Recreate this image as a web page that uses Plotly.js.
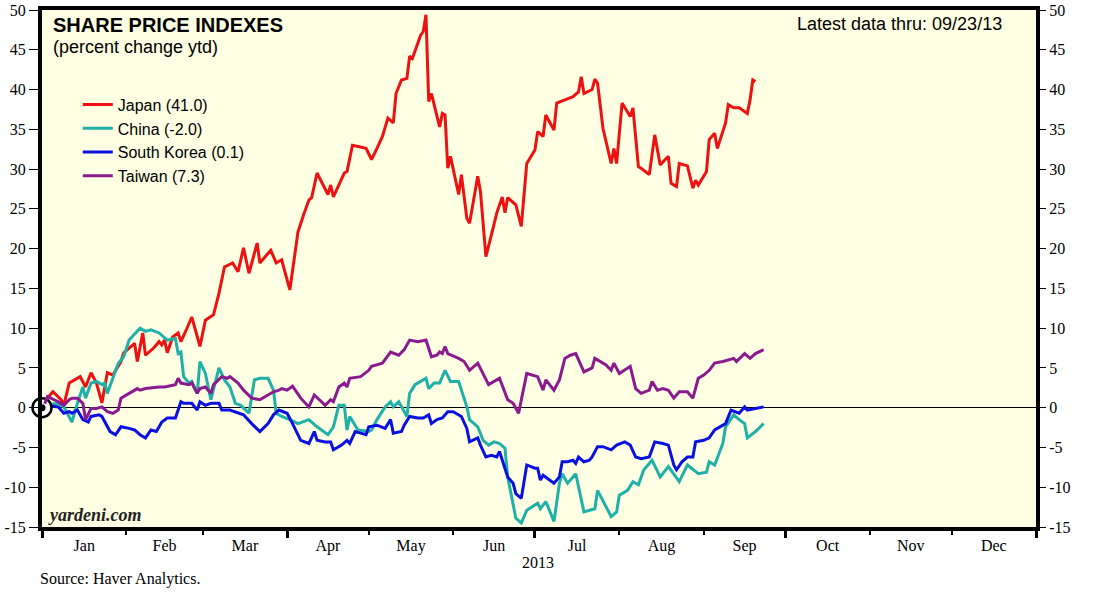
<!DOCTYPE html>
<html>
<head>
<meta charset="utf-8">
<script src="https://cdn.plot.ly/plotly-3.0.1.min.js"></script>
<style>html,body{margin:0;padding:0;background:#fff;}#chart{width:1097px;height:604px;}</style>
</head>
<body>
<div id="chart"></div>
<script>
// ---- data (day of year 2013, 0 = Jan 1) ----
const japanDays = [1,4,7,8,10,14,16,18,20,22,24,26,29,30,34,35,37,38,41,43,44,45,46,48,50,51,53,55,58,60,63,65,67,70,72,74,76,79,80,84,86,88,91,94,96,98,99,101,105,106,107,111,112,114,119,121,123,125,127,129,130,132,134,135,136,139,140,141,142,143,146,147,148,149,150,153,154,156,157,160,161,163,165,167,169,170,171,174,176,178,181,182,184,185,188,189,192,195,197,198,199,202,203,204,206,209,210,211,213,216,217,219,220,223,225,227,230,231,233,234,237,239,240,241,244,245,247,248,251,252,254,256,259,260,261,262];
const japanValues = [0.8,2.0,1.0,0.3,3.1,3.9,2.6,4.4,3.1,0.6,4.4,4.1,5.8,6.9,8.1,5.8,9.4,6.6,7.5,8.3,7.9,8.5,6.9,8.9,9.4,8.3,9.8,11.4,7.7,11.0,11.7,14.4,17.7,18.2,17.1,20.1,16.9,20.7,18.2,19.8,18.2,18.6,14.8,22.1,24.2,26.1,26.4,29.5,26.8,28.0,26.5,29.5,29.7,33.0,32.6,31.2,32.6,34.1,36.4,35.8,39.5,41.2,41.4,44.2,43.9,46.8,47.3,49.4,38.5,39.5,35.3,37.0,36.8,30.1,31.6,26.8,29.3,23.8,23.2,29.1,27.2,19.0,21.7,24.5,26.5,24.5,26.4,25.5,22.8,30.7,32.4,34.7,34.1,36.8,34.9,38.3,38.7,39.1,39.7,41.6,39.5,40.0,41.3,40.8,35.1,30.7,32.6,30.7,38.3,36.6,37.7,30.3,30.1,29.3,34.3,30.5,31.6,28.2,27.8,30.7,30.4,27.6,28.6,28.0,29.7,33.7,34.5,32.6,35.8,38.1,37.7,37.7,37.0,38.7,41.2,41.0];

const chinaDays = [1,6,8,11,13,15,16,18,20,22,23,24,26,28,30,32,33,36,38,40,43,46,49,50,51,52,54,55,57,58,60,62,65,67,69,71,73,75,76,78,80,83,85,86,88,91,94,98,101,105,107,109,111,112,113,116,120,121,123,126,128,129,131,134,135,137,141,142,144,146,148,150,153,156,157,160,162,164,166,168,170,171,174,176,178,182,183,185,188,190,191,193,196,199,203,204,209,211,212,215,217,219,221,224,227,230,232,234,237,239,241,244,245,247,250,251,254,256,258,259,262,265];
const chinaValues = [0.3,0.55,0.1,-1.8,0.55,2.6,1.2,3.1,3.3,2.9,3.1,1.8,3.7,5.6,6.4,8.5,8.9,10.0,9.6,9.8,9.4,8.5,8.7,6.8,7.0,3.9,3.1,3.3,1.8,5.8,4.3,1.0,5.0,3.5,2.6,0.55,0.3,-0.3,-0.7,3.5,3.7,3.7,2.2,-0.7,-1.1,-1.5,-2.0,-1.5,-2.4,-3.4,-2.4,0.3,0.3,-2.8,-1.1,-2.8,-3.0,-2.8,-1.5,0.1,0.75,0.1,0.75,-1.1,1.8,2.9,3.7,2.4,3.1,3.1,4.7,3.3,3.3,0.1,-1.5,-2.4,-4.1,-4.7,-4.3,-4.5,-5.1,-8.7,-13.9,-14.5,-12.9,-12.0,-12.7,-11.8,-14.3,-9.5,-8.3,-9.5,-8.3,-13.1,-12.7,-10.4,-13.7,-13.1,-11.0,-10.4,-9.3,-9.7,-7.8,-6.6,-8.7,-7.4,-8.3,-9.3,-7.2,-7.8,-8.3,-8.1,-6.8,-7.2,-4.5,-2.4,-0.9,-1.5,-2.0,-3.8,-3.0,-2.0];

const koreaDays = [1,6,8,10,11,13,15,17,18,21,22,24,25,27,29,32,34,36,38,40,42,44,46,49,51,52,55,57,58,60,62,65,66,69,72,74,77,80,83,85,87,90,92,95,98,100,101,104,106,107,110,112,113,115,117,119,120,123,126,128,129,132,133,135,138,140,142,143,145,147,149,151,154,156,157,160,161,163,165,167,168,171,173,174,176,178,181,182,183,184,188,190,191,193,195,196,197,199,201,202,204,206,209,211,214,216,218,220,223,225,228,230,232,233,235,237,239,240,243,245,247,249,251,253,256,258,259,262,265];
const koreaValues = [0.3,0.1,-0.7,-0.5,-0.7,-0.3,-1.5,-1.8,-1.1,-0.9,-1.1,-2.4,-3.0,-3.4,-2.4,-2.6,-2.8,-3.4,-3.8,-2.8,-3.0,-1.8,-1.3,-1.3,0.75,0.55,0.55,-0.3,0.75,0.3,0.55,0.55,-0.3,-0.3,-0.7,-0.9,-2.0,-3.0,-2.0,-0.9,-0.3,-0.7,-2.0,-4.1,-4.5,-3.0,-4.1,-4.3,-4.3,-5.3,-4.7,-4.1,-4.5,-3.0,-3.2,-3.4,-2.4,-2.2,-2.6,-1.5,-3.2,-3.0,-2.2,-1.1,-1.3,-1.3,-0.9,-2.0,-1.5,-1.3,-0.5,-0.5,-1.1,-2.6,-4.3,-3.8,-4.7,-6.2,-6.0,-6.2,-5.5,-8.7,-9.5,-10.8,-11.4,-7.2,-7.6,-7.6,-9.1,-8.5,-9.5,-8.7,-6.8,-6.8,-6.6,-7.0,-6.2,-6.8,-6.6,-6.2,-4.9,-4.9,-5.3,-4.7,-4.3,-4.7,-6.2,-6.4,-6.2,-4.3,-4.5,-4.7,-7.2,-7.8,-6.8,-6.2,-6.2,-4.3,-4.1,-3.8,-2.8,-2.4,-2.0,-0.3,-0.7,0.1,-0.3,-0.1,0.1];

const taiwanDays = [1,2,6,8,10,11,13,15,16,18,20,22,24,26,28,29,32,35,36,38,43,45,49,50,51,54,55,57,58,60,62,63,66,68,69,72,74,77,80,83,85,87,88,90,92,95,98,100,102,104,106,107,109,111,112,113,117,120,121,123,125,128,131,133,135,138,141,143,145,146,147,148,149,153,155,157,160,164,168,171,173,175,178,182,184,185,188,190,192,194,196,199,202,203,207,209,210,212,216,218,220,223,224,226,228,230,232,234,237,239,241,243,245,247,250,254,255,258,260,262,265];
const taiwanValues = [0.5,1.4,0.75,0.3,1.0,1.2,1.2,0.55,-1.5,-0.1,-0.1,0.1,-0.5,-0.7,-0.3,1.2,1.8,2.4,2.2,2.4,2.6,2.6,2.9,3.7,3.1,2.9,3.1,1.8,2.4,2.6,1.8,2.9,3.9,3.7,3.9,3.1,2.2,1.2,1.0,1.6,2.0,2.2,2.4,2.2,2.7,1.2,0.1,1.6,1.0,0.3,1.0,0.75,2.6,3.1,2.6,3.7,3.9,4.7,5.2,5.4,5.6,7.0,6.6,7.3,8.5,8.3,8.5,6.4,6.6,7.0,6.8,7.7,6.8,6.2,5.8,4.7,5.6,2.9,3.7,1.0,0.55,-0.7,4.3,3.9,2.2,3.5,2.2,3.5,6.2,6.6,6.8,4.5,5.0,6.2,5.4,4.7,5.6,4.3,5.2,2.4,1.8,2.2,3.3,2.2,2.4,2.2,1.2,2.0,2.0,1.2,3.7,4.1,4.7,5.6,5.8,6.2,5.8,6.8,6.2,6.8,7.3];

const seriesNames = ['Japan (41.0)', 'China (-2.0)', 'South Korea (0.1)', 'Taiwan (7.3)'];
const seriesColors = ['#EE1111', '#1FB0A8', '#0A10E0', '#8A1A8E'];
const yTickVals = [-15,-10,-5,0,5,10,15,20,25,30,35,40,45,50];
const yTickText = ['-15','-10','-5','0','5','10','15','20','25','30','35','40','45','50'];
const xRange = ['2013-01-01', '2014-01-01'];

function toDate(d) {
  const t = new Date(Date.UTC(2013, 0, 1 + d));
  return t.toISOString().slice(0, 10);
}

const serif = 'Liberation Serif, Times New Roman, serif';
const sans = 'Liberation Sans, Arial, sans-serif';

function line(days, vals, i, xa, ya) {
  return {
    type: 'scatter', mode: 'lines',
    x: days.map(toDate), y: vals,
    name: seriesNames[i],
    line: {color: seriesColors[i], width: 3},
    xaxis: xa, yaxis: ya,
    hoverinfo: 'skip'
  };
}

function originMark(size, fill, lw) {
  return {
    type: 'scatter', mode: 'markers',
    x: [xRange[0]], y: [0],
    marker: {size: size, color: fill, opacity: 1, line: {color: '#000000', width: lw}},
    cliponaxis: false, showlegend: false, hoverinfo: 'skip'
  };
}

const traces = [
  line(japanDays, japanValues, 0, 'x', 'y'),
  line(chinaDays, chinaValues, 1, 'x', 'y'),
  line(koreaDays, koreaValues, 2, 'x', 'y'),
  line(taiwanDays, taiwanValues, 3, 'x2', 'y2'),
  originMark(19, '#ffffff', 2.5),
  originMark(7, '#000000', 0)
];

const layout = {
  width: 1097, height: 604,
  margin: {l: 42, r: 61, t: 10, b: 77},
  paper_bgcolor: '#ffffff',
  plot_bgcolor: '#FFFFE3',
  showlegend: true,
  legend: {
    x: 0.036, y: 0.85, xanchor: 'left', yanchor: 'top',
    bgcolor: 'rgba(0,0,0,0)', borderwidth: 0,
    font: {family: sans, size: 16, color: '#000'},
    traceorder: 'normal', tracegroupgap: 0
  },
  xaxis: {
    type: 'date', range: xRange,
    dtick: 'M1', tick0: '2013-01-01', ticklabelmode: 'period', tickformat: '%b',
    ticks: 'outside', ticklen: 4, tickwidth: 2, tickcolor: '#000',
    ticklabelstandoff: -3,
    showline: true, linewidth: 4, linecolor: '#000', mirror: true,
    showgrid: false, zeroline: false,
    tickfont: {family: serif, size: 16, color: '#000'}
  },
  xaxis2: {
    type: 'date', range: xRange, overlaying: 'x', anchor: 'y',
    dtick: 'M3', tick0: '2013-01-01',
    ticks: 'outside', ticklen: 10, tickwidth: 3, tickcolor: '#000',
    showticklabels: false, showline: false, showgrid: false, zeroline: false
  },
  yaxis: {
    range: [-15, 50], tickvals: yTickVals, ticktext: yTickText,
    ticks: 'outside', ticklen: 9, tickwidth: 1, tickcolor: '#000',
    showline: true, linewidth: 4, linecolor: '#000', mirror: true,
    showgrid: false, zeroline: true, zerolinecolor: '#000', zerolinewidth: 1,
    tickfont: {family: serif, size: 16, color: '#000'}
  },
  yaxis2: {
    range: [-15, 50], tickvals: yTickVals, ticktext: yTickText,
    overlaying: 'y', side: 'right', anchor: 'x',
    ticks: 'outside', ticklen: 9, tickwidth: 1, tickcolor: '#000',
    showline: false, showgrid: false, zeroline: false,
    tickfont: {family: serif, size: 16, color: '#000'}
  },
  annotations: [
    {xref: 'paper', yref: 'paper', x: 0.009, y: 0.971, xanchor: 'left', yanchor: 'middle', showarrow: false,
     text: '<b>SHARE PRICE INDEXES</b>', font: {family: sans, size: 20, color: '#000'}},
    {xref: 'paper', yref: 'paper', x: 0.009, y: 0.928, xanchor: 'left', yanchor: 'middle', showarrow: false,
     text: '(percent change ytd)', font: {family: sans, size: 18, color: '#000'}},
    {xref: 'paper', yref: 'paper', x: 0.968, y: 0.973, xanchor: 'right', yanchor: 'middle', showarrow: false,
     text: 'Latest data thru: 09/23/13', font: {family: sans, size: 18, color: '#000'}},
    {xref: 'paper', yref: 'paper', x: 0.004, y: 0.023, xanchor: 'left', yanchor: 'middle', showarrow: false,
     text: '<b><i>yardeni.com</i></b>', font: {family: serif, size: 18, color: '#222'}},
    {xref: 'paper', yref: 'paper', x: 0.499, y: -0.068, xanchor: 'center', yanchor: 'middle', showarrow: false,
     text: '2013', font: {family: serif, size: 16, color: '#000'}},
    {xref: 'paper', yref: 'paper', x: -0.004, y: -0.101, xanchor: 'left', yanchor: 'middle', showarrow: false,
     text: 'Source: Haver Analytics.', font: {family: serif, size: 16, color: '#000'}}
  ]
};

Plotly.newPlot('chart', traces, layout, {displayModeBar: false, staticPlot: true});
</script>
</body>
</html>
